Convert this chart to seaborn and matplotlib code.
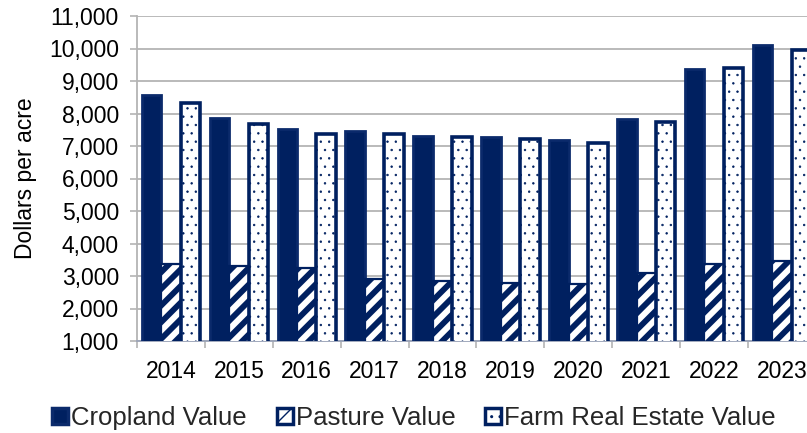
import matplotlib
matplotlib.use("Agg")
import matplotlib.pyplot as plt
from matplotlib.patches import Patch
from matplotlib.ticker import FuncFormatter, FixedLocator
import seaborn as sns
import pandas as pd

# Land values, dollars per acre
years = ["2014", "2015", "2016", "2017", "2018", "2019", "2020", "2021", "2022", "2023"]
cropland = [8560, 7870, 7520, 7450, 7310, 7280, 7170, 7830, 9360, 10120]
pasture = [3380, 3320, 3250, 2900, 2850, 2780, 2740, 3080, 3370, 3450]
farm_real_estate = [8330, 7690, 7380, 7360, 7270, 7210, 7080, 7750, 9410, 9940]
series_names = ["Cropland Value", "Pasture Value", "Farm Real Estate Value"]

df = pd.DataFrame({
    "year": years * 3,
    "value": cropland + pasture + farm_real_estate,
    "series": [series_names[0]] * len(years) + [series_names[1]] * len(years)
              + [series_names[2]] * len(years),
})

NAVY = "#002060"
EDGE = "#0b2a6b"
GRID = "#b4b4b4"

sns.set_theme(style="white")
plt.rcParams["font.family"] = ["Liberation Sans", "DejaVu Sans"]
plt.rcParams["hatch.color"] = NAVY

fig = plt.figure(figsize=(8.07, 4.33), dpi=100)
ax = fig.add_axes([137 / 807, 1 - 341 / 433, 679 / 807, 325 / 433])

sns.barplot(data=df, x="year", y="value", hue="series", hue_order=series_names,
            order=years, palette=["white"] * 3, width=0.86, saturation=1,
            ax=ax, legend=False, zorder=3)

styles = [
    dict(facecolor=NAVY, edgecolor=EDGE, hatch=None, hlw=1.0, lw=2.0),
    dict(facecolor="white", edgecolor=NAVY, hatch="//", hlw=4.2, lw=1.6),
    dict(facecolor="white", edgecolor=NAVY, hatch="..", hlw=0.5, lw=2.6),
]

for cont, st in zip(ax.containers, styles):
    for bar in cont:
        bar.set_facecolor(st["facecolor"])
        bar.set_edgecolor(st["edgecolor"])
        bar.set_linewidth(st["lw"])
        if st["hatch"]:
            bar.set_hatch(st["hatch"])
        if hasattr(bar, "set_hatch_linewidth"):
            bar.set_hatch_linewidth(st["hlw"])
        bar.set_zorder(3)

ax.set_ylim(1000, 11000)
ax.set_xlim(-0.5, len(years) - 0.5)
ax.set_yticks(range(1000, 11001, 1000))
ax.yaxis.set_major_formatter(FuncFormatter(lambda v, p: f"{int(v):,}"))
ax.xaxis.set_minor_locator(FixedLocator([i - 0.5 for i in range(len(years) + 1)]))

ax.grid(axis="y", color=GRID, linewidth=1.3, zorder=0)
ax.set_axisbelow(True)
for s in ["top", "right"]:
    ax.spines[s].set_visible(False)
ax.spines["left"].set_color(GRID)
ax.spines["left"].set_linewidth(1.3)
ax.spines["bottom"].set_color("#9aa3b8")
ax.spines["bottom"].set_linewidth(1.3)

ax.tick_params(axis="y", which="major", length=5, width=1.2, color=GRID,
               pad=8, labelsize=16.5, labelcolor="black", left=True)
ax.tick_params(axis="x", which="major", length=0, pad=14, labelsize=16.5,
               labelcolor="black")
ax.tick_params(axis="x", which="minor", length=5, width=1.2, color=GRID,
               bottom=True)

ax.set_xlabel("")
ax.set_ylabel("Dollars per acre", fontsize=16.5, color="black")
ax.yaxis.set_label_coords(-0.148, 0.5)

handles = []
for st, name in zip(styles, series_names):
    h = Patch(facecolor=st["facecolor"], edgecolor=st["edgecolor"],
              linewidth=2.5, hatch=st["hatch"], label=name)
    handles.append(h)

fig.legend(handles=handles, loc="center", bbox_to_anchor=(0.513, 1 - 418 / 433),
           ncol=3, frameon=False, fontsize=18.5, handlelength=0.62,
           handleheight=0.62, handletextpad=0.12, columnspacing=1.15)

fig.savefig("out.png", dpi=100)
